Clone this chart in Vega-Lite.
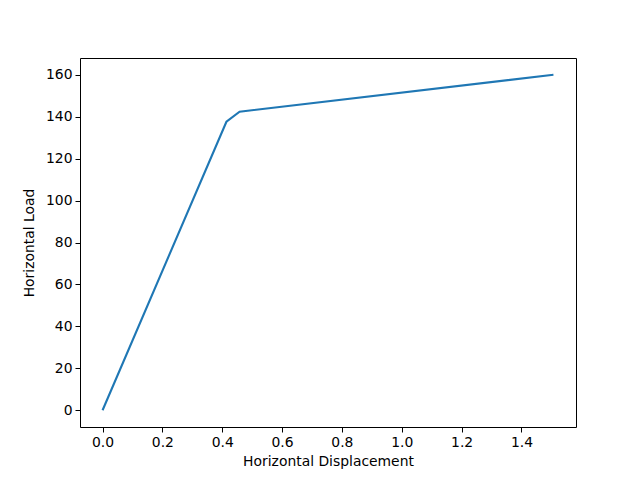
{
  "$schema": "https://vega.github.io/schema/vega-lite/v6.json",
  "width": 496,
  "height": 369,
  "autosize": "none",
  "padding": {"left": 80, "top": 58, "right": 64, "bottom": 53},
  "background": "white",
  "config": {
    "view": {"stroke": "black", "strokeWidth": 1},
    "font": "DejaVu Sans",
    "axis": {
      "grid": false,
      "domain": false,
      "tickColor": "black",
      "tickSize": 5,
      "tickWidth": 1,
      "labelFont": "DejaVu Sans",
      "labelFontSize": 13.9,
      "labelColor": "black",
      "labelPadding": 3,
      "titleFont": "DejaVu Sans",
      "titleFontSize": 13.9,
      "titleFontWeight": "normal",
      "titleColor": "black"
    }
  },
  "data": {
    "values": [
      {"d": 0.0, "load": 0.0},
      {"d": 0.414, "load": 137.6},
      {"d": 0.458, "load": 142.4},
      {"d": 1.507, "load": 160.0}
    ]
  },
  "mark": {"type": "line", "color": "#1f77b4", "strokeWidth": 2.1},
  "encoding": {
    "x": {
      "field": "d",
      "type": "quantitative",
      "title": "Horizontal Displacement",
      "scale": {"domain": [-0.0754, 1.5824], "nice": false, "zero": false},
      "axis": {"values": [0, 0.2, 0.4, 0.6, 0.8, 1.0, 1.2, 1.4], "format": ".1f", "titlePadding": 6}
    },
    "y": {
      "field": "load",
      "type": "quantitative",
      "title": "Horizontal Load",
      "scale": {"domain": [-8, 168], "nice": false, "zero": false},
      "axis": {"values": [0, 20, 40, 60, 80, 100, 120, 140, 160], "titlePadding": 9}
    }
  }
}
